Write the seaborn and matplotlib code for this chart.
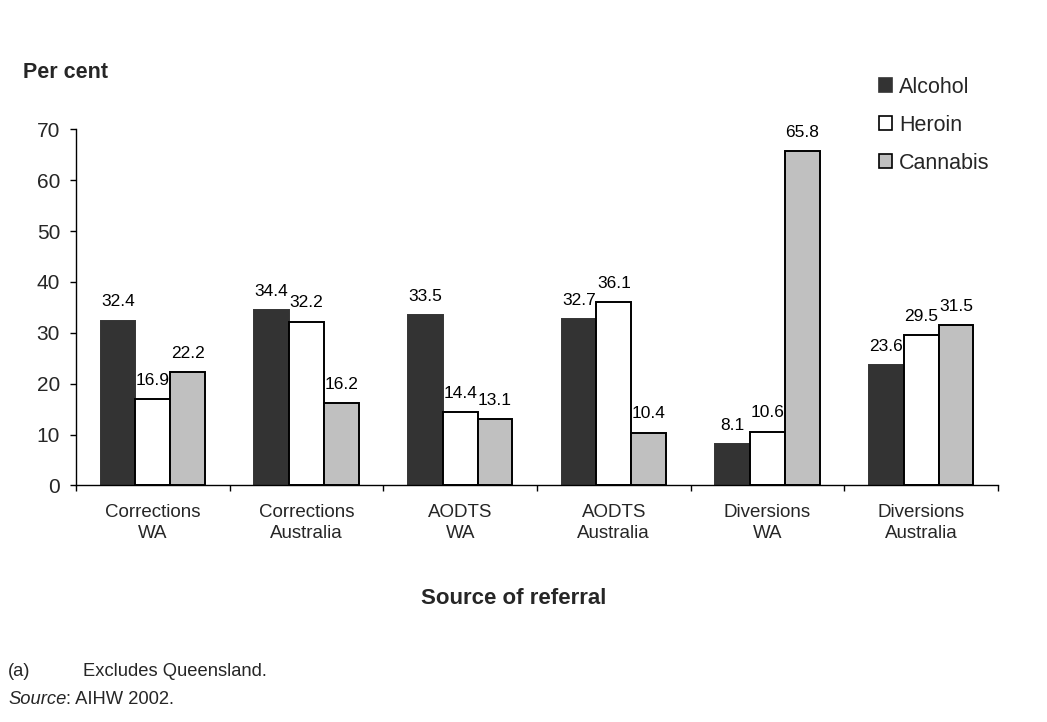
import matplotlib
matplotlib.use("Agg")
import matplotlib.pyplot as plt
from matplotlib.patches import Patch
import pandas as pd
import seaborn as sns

# Principal drug of concern by source of referral
categories = ["Corrections\nWA", "Corrections\nAustralia", "AODTS\nWA",
              "AODTS\nAustralia", "Diversions\nWA", "Diversions\nAustralia"]
drugs = ["Alcohol", "Heroin", "Cannabis"]
alcohol = [32.4, 34.4, 33.5, 32.7, 8.1, 23.6]
heroin = [16.9, 32.2, 14.4, 36.1, 10.6, 29.5]
cannabis = [22.2, 16.2, 13.1, 10.4, 65.8, 31.5]
y_ticks = [0, 10, 20, 30, 40, 50, 60, 70]

fills = {"Alcohol": "#333333", "Heroin": "#FFFFFF", "Cannabis": "#C0C0C0"}
edges = {"Alcohol": "#333333", "Heroin": "#000000", "Cannabis": "#000000"}

df = pd.DataFrame({
    "source": categories * 3,
    "drug": [d for d in drugs for _ in categories],
    "pct": alcohol + heroin + cannabis,
})

sns.set_style("white")
plt.rcParams["font.family"] = ["Liberation Sans", "DejaVu Sans"]

fig = plt.figure(figsize=(10.47, 7.22), dpi=100)
ax = fig.add_axes([0.0726, 0.3276, 0.8806, 0.4934])

sns.barplot(data=df, x="source", y="pct", hue="drug", order=categories,
            hue_order=drugs, palette=fills, saturation=1, width=0.68,
            linewidth=1.4, legend=False, ax=ax)

for container, drug in zip(ax.containers, drugs):
    for bar in container:
        bar.set_edgecolor(edges[drug])
    ax.bar_label(container, labels=[f"{b.get_height():.1f}" for b in container],
                 padding=8, fontsize=12.5, color="black")

ax.set_ylim(0, 70)
ax.set_xlim(-0.5, len(categories) - 0.5)
ax.set_yticks(y_ticks)
ax.set_xlabel("")
ax.set_ylabel("")

for side in ("top", "right"):
    ax.spines[side].set_visible(False)
for side in ("left", "bottom"):
    ax.spines[side].set_color("black")
    ax.spines[side].set_linewidth(1.0)

# group separators on the category axis
ax.set_xticks([i - 0.5 for i in range(len(categories) + 1)], minor=True)
ax.tick_params(axis="x", which="major", length=0, pad=13.5, labelsize=13.5)
ax.tick_params(axis="x", which="minor", length=4.5, width=1, color="black",
               direction="out", bottom=True)
ax.tick_params(axis="y", length=4.5, width=1, color="black", direction="out",
               left=True, pad=7, labelsize=15)
for lbl in ax.get_xticklabels():
    lbl.set_linespacing(1.3)

handles = [Patch(facecolor=fills[d], edgecolor="black" if d != "Alcohol" else fills[d],
                 linewidth=1.2, label=d) for d in drugs]
fig.legend(handles=handles, loc="upper left", frameon=False,
           bbox_to_anchor=(879 / 1047, 1 - 77 / 722), fontsize=15.5,
           handlelength=0.62, handleheight=0.62, handletextpad=0.3,
           labelspacing=0.78, borderaxespad=0, borderpad=0)

fig.text(23 / 1047, 1 - 72 / 722, "Per cent", fontsize=15.5, fontweight="bold",
         va="center", ha="left")
fig.text(514 / 1047, 1 - 598 / 722, "Source of referral", fontsize=16,
         fontweight="bold", va="center", ha="center")

fig.text(8 / 1047, 1 - 671 / 722, "(a)", fontsize=13.2, va="center", ha="left")
fig.text(83 / 1047, 1 - 671 / 722, "Excludes Queensland.", fontsize=13.2,
         va="center", ha="left")
src = fig.text(8 / 1047, 1 - 700 / 722, "Source", fontsize=13.2, style="italic",
               va="center", ha="left")
renderer = fig.canvas.get_renderer()
bb = src.get_window_extent(renderer=renderer)
fig.text(bb.x1 / fig.bbox.width, 1 - 700 / 722, ": AIHW 2002.", fontsize=13.2,
         va="center", ha="left")

fig.savefig("out.png", dpi=100)
